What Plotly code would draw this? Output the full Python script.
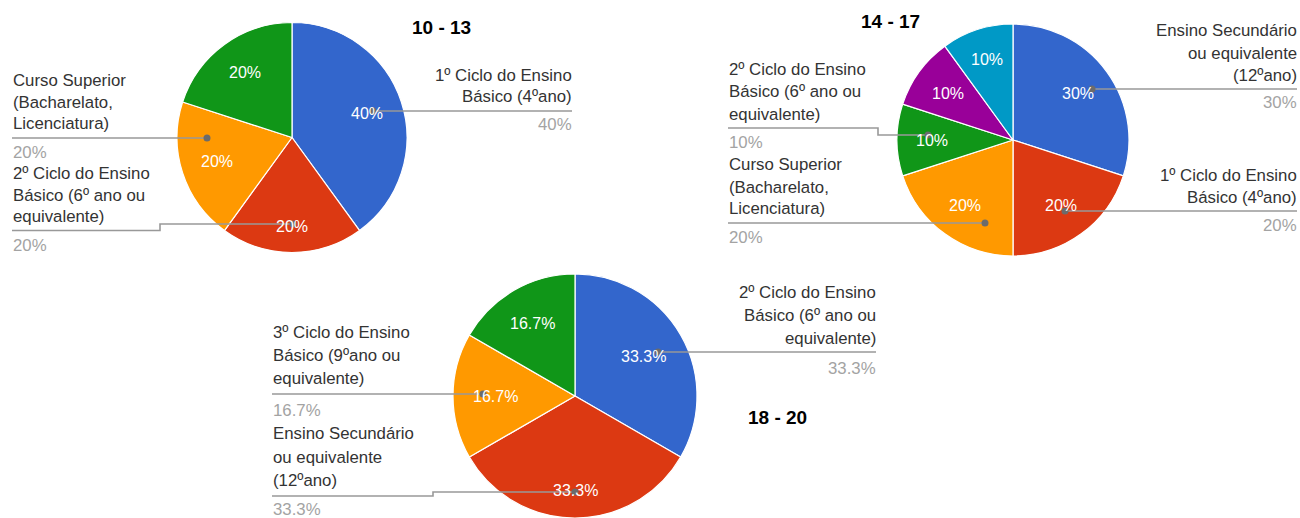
import math
import plotly.graph_objects as go

W, H = 1300, 518

# ---------------- data ----------------
titles = ["10 - 13", "14 - 17", "18 - 20"]

labels_1013 = ["1º Ciclo do Ensino Básico (4ºano)",
               "2º Ciclo do Ensino Básico (6º ano ou equivalente)",
               "Curso Superior (Bacharelato, Licenciatura)",
               "Ensino Secundário ou equivalente (12ºano)"]
values_1013 = [2, 1, 1, 1]

labels_1417 = ["Ensino Secundário ou equivalente (12ºano)",
               "1º Ciclo do Ensino Básico (4ºano)",
               "Curso Superior (Bacharelato, Licenciatura)",
               "2º Ciclo do Ensino Básico (6º ano ou equivalente)",
               "3º Ciclo do Ensino Básico (9ºano ou equivalente)",
               "Outro"]
values_1417 = [3, 2, 2, 1, 1, 1]

labels_1820 = ["2º Ciclo do Ensino Básico (6º ano ou equivalente)",
               "Ensino Secundário ou equivalente (12ºano)",
               "3º Ciclo do Ensino Básico (9ºano ou equivalente)",
               "1º Ciclo do Ensino Básico (4ºano)"]
values_1820 = [2, 2, 1, 1]

# ---------------- style ----------------
palette = ["#3366CC", "#DC3912", "#FF9900", "#109618", "#990099", "#0099C6"]
LABEL_FONT = "Arial, Liberation Sans, sans-serif"
LABEL_COLOR = "#333333"
VALUE_COLOR = "#a3a3a3"
LEADER_COLOR = "#999999"
DOT_COLOR = "#6b6b6b"
SLICE_FONT_SIZE = 16
LABEL_SIZE = 16.8


def px(x):
    return x / W


def py(y):
    return 1 - y / H


def pct_text(vals, i):
    p = vals[i] / sum(vals) * 100
    s = f"{p:.1f}".rstrip("0").rstrip(".")
    return s + "%"


def text_width(s, size):
    w = 0.0
    for ch in s:
        w += 0.889 if ch == "%" else (0.278 if ch == "." else 0.556)
    return w * size


# pie geometry in pixels: (center x, center y, radius)
pies = [
    (labels_1013, values_1013, (292, 137.5, 115)),
    (labels_1417, values_1417, (1013, 140, 116)),
    (labels_1820, values_1820, (575, 396, 122)),
]

# callout layout per chart: slice index -> (side, anchor x, text line y's, leader path, value y)
callouts = [
    {
        0: ("right", 572, [75, 97], [(572, 111), (373, 111)], 125),
        1: ("left", 12, [173, 195, 217], [(12, 230.5), (160, 230.5), (160, 224), (293, 224)], 245),
        2: ("left", 12, [80, 102, 124], [(12, 138), (207, 138)], 152),
    },
    {
        0: ("right", 1297, [31, 53, 75], [(1297, 89), (1092, 89)], 103),
        1: ("right", 1297, [175, 197], [(1297, 211), (1065, 211)], 225),
        2: ("left", 728, [165, 187, 209], [(728, 223), (985, 223)], 237),
        3: ("left", 728, [70, 92, 114], [(728, 128), (878, 128), (878, 135), (928, 135)], 142),
    },
    {
        0: ("right", 876, [292, 315, 338], [(876, 352), (658, 352)], 368),
        1: ("left", 272, [433, 457, 480], [(272, 496), (433, 496), (433, 492), (575, 492)], 509),
        2: ("left", 272, [332, 355, 378], [(272, 394), (483, 394)], 410),
    },
]

# how each label is broken into lines
wrap = {
    "1º Ciclo do Ensino Básico (4ºano)": ["1º Ciclo do Ensino", "Básico (4ºano)"],
    "2º Ciclo do Ensino Básico (6º ano ou equivalente)": ["2º Ciclo do Ensino", "Básico (6º ano ou", "equivalente)"],
    "Curso Superior (Bacharelato, Licenciatura)": ["Curso Superior", "(Bacharelato,", "Licenciatura)"],
    "Ensino Secundário ou equivalente (12ºano)": ["Ensino Secundário", "ou equivalente", "(12ºano)"],
    "3º Ciclo do Ensino Básico (9ºano ou equivalente)": ["3º Ciclo do Ensino", "Básico (9ºano ou", "equivalente)"],
}

title_pos = [(441, 27), (890, 21), (777, 417)]

fig = go.Figure()
annotations = []
shapes = []

for k, (labels, values, (cx, cy, r)) in enumerate(pies):
    fig.add_trace(go.Pie(
        labels=labels,
        values=values,
        sort=False,
        direction="clockwise",
        rotation=0,
        marker=dict(colors=palette[:len(values)], line=dict(color="white", width=1.2)),
        textinfo="none",
        showlegend=False,
        hoverinfo="label+percent",
        domain=dict(x=[px(cx - r), px(cx + r)], y=[max(0, py(cy + r)), py(cy - r)]),
        automargin=False,
    ))

    # slice percentages, placed like the source chart (text box kept inside 0.84 R)
    total = sum(values)
    acc = 0
    for i, v in enumerate(values):
        mid = (acc + v / 2) / total * 2 * math.pi
        acc += v
        t = pct_text(values, i)
        w = text_width(t, SLICE_FONT_SIZE)
        h = SLICE_FONT_SIZE
        rr = 0.84 * r - (w / 2 * abs(math.sin(mid)) + h / 2 * abs(math.cos(mid)))
        annotations.append(dict(
            x=px(cx + rr * math.sin(mid)), y=py(cy - rr * math.cos(mid)),
            xref="paper", yref="paper", text=t, showarrow=False,
            xanchor="center", yanchor="middle",
            font=dict(family=LABEL_FONT, size=SLICE_FONT_SIZE, color="white")))

    for i, (side, ax, ys, path, vy) in callouts[k].items():
        lines = wrap[labels[i]]
        anchor = "left" if side == "left" else "right"
        tx_ = ax - 1.5 if side == "left" else ax + 1.5
        for t, yy in zip(lines, ys):
            annotations.append(dict(
                x=px(tx_), y=py(yy), xref="paper", yref="paper", text=t,
                showarrow=False, xanchor=anchor, yanchor="middle",
                font=dict(family=LABEL_FONT, size=LABEL_SIZE, color=LABEL_COLOR)))
        annotations.append(dict(
            x=px(tx_), y=py(vy), xref="paper", yref="paper", text=pct_text(values, i),
            showarrow=False, xanchor=anchor, yanchor="middle",
            font=dict(family=LABEL_FONT, size=LABEL_SIZE, color=VALUE_COLOR)))
        d = "M " + " L ".join(f"{px(x):.5f},{py(y):.5f}" for x, y in path)
        shapes.append(dict(type="path", path=d, xref="paper", yref="paper",
                           line=dict(color=LEADER_COLOR, width=1.6), layer="above"))
        ex, ey = path[-1]
        shapes.append(dict(type="circle", xref="paper", yref="paper",
                           x0=px(ex - 3.5), x1=px(ex + 3.5), y0=py(ey + 3.5), y1=py(ey - 3.5),
                           fillcolor=DOT_COLOR, line=dict(width=0), layer="above"))

    tx, ty = title_pos[k]
    annotations.append(dict(
        x=px(tx), y=py(ty), xref="paper", yref="paper", text=f"<b>{titles[k]}</b>",
        showarrow=False, xanchor="center", yanchor="middle",
        font=dict(family="Liberation Sans, Arial, sans-serif", size=19, color="#000000")))

fig.update_layout(
    width=W, height=H,
    margin=dict(l=0, r=0, t=0, b=0),
    paper_bgcolor="white", plot_bgcolor="white",
    annotations=annotations, shapes=shapes,
)

fig.write_html("out.html", config={"displayModeBar": False},
               post_script="document.body.style.margin='0px';document.body.style.overflow='hidden';")
